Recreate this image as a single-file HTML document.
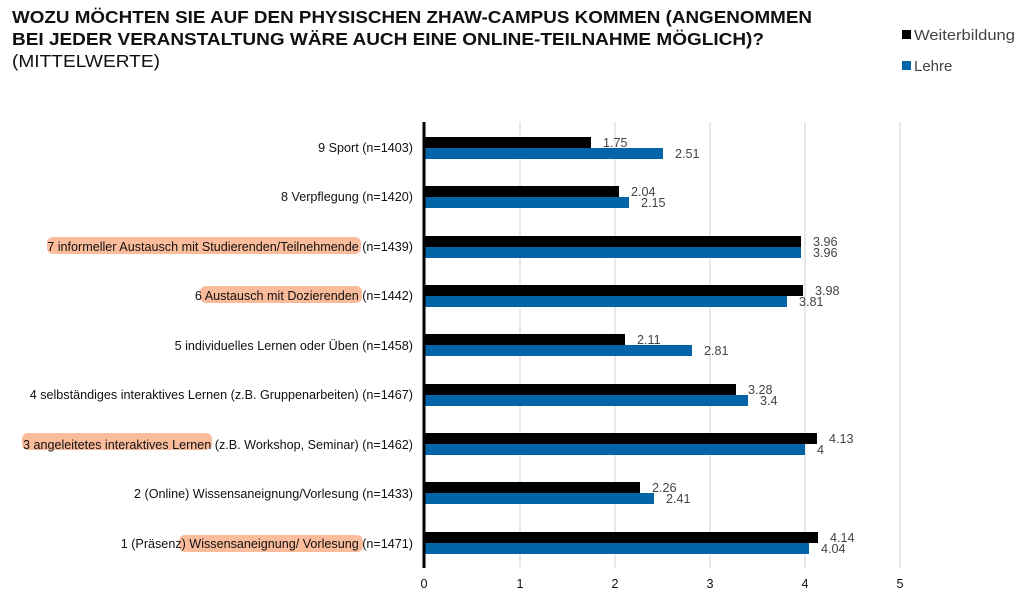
<!DOCTYPE html>
<html><head><meta charset="utf-8"><style>
html,body{margin:0;padding:0;background:#fff;}
svg{display:block;font-family:"Liberation Sans",Arial,sans-serif;}
</style></head><body>
<svg width="1024" height="603" viewBox="0 0 1024 603" xmlns="http://www.w3.org/2000/svg">
<g font-weight="bold" font-size="17.5" fill="#111">
<text x="12" y="23" textLength="800" lengthAdjust="spacingAndGlyphs">WOZU MÖCHTEN SIE AUF DEN PHYSISCHEN ZHAW-CAMPUS KOMMEN (ANGENOMMEN</text>
<text x="12" y="45" textLength="752" lengthAdjust="spacingAndGlyphs">BEI JEDER VERANSTALTUNG WÄRE AUCH EINE ONLINE-TEILNAHME MÖGLICH)?</text>
</g>
<text x="12" y="67" font-size="17.5" fill="#111" textLength="148" lengthAdjust="spacingAndGlyphs">(MITTELWERTE)</text>
<rect x="902" y="30" width="9" height="9" fill="#000"/>
<text x="914" y="40" font-size="15" fill="#444" textLength="101" lengthAdjust="spacingAndGlyphs">Weiterbildung</text>
<rect x="902" y="61" width="9" height="9" fill="#0464a8"/>
<text x="914" y="71" font-size="15" fill="#444">Lehre</text>
<g stroke="#d0d0d0" stroke-width="1">
<line x1="520" y1="122" x2="520" y2="568"/><line x1="615" y1="122" x2="615" y2="568"/>
<line x1="710" y1="122" x2="710" y2="568"/><line x1="805" y1="122" x2="805" y2="568"/>
<line x1="900" y1="122" x2="900" y2="568"/>
</g>
<g fill="#f9a57a" opacity="0.75">
<rect x="47" y="237" width="314" height="17" rx="6"/>
<rect x="200" y="286" width="162" height="17" rx="6"/>
<rect x="22" y="433" width="190" height="17" rx="6"/>
<rect x="179" y="535" width="184" height="17" rx="6"/>
</g>
<g font-size="12.6" fill="#111" text-anchor="end">
<text x="413" y="152">9 Sport (n=1403)</text>
<text x="413" y="201">8 Verpflegung (n=1420)</text>
<text x="413" y="251">7 informeller Austausch mit Studierenden/Teilnehmende (n=1439)</text>
<text x="413" y="300">6 Austausch mit Dozierenden (n=1442)</text>
<text x="413" y="350">5 individuelles Lernen oder Üben (n=1458)</text>
<text x="413" y="399">4 selbständiges interaktives Lernen (z.B. Gruppenarbeiten)  (n=1467)</text>
<text x="413" y="449">3 angeleitetes interaktives Lernen (z.B. Workshop, Seminar) (n=1462)</text>
<text x="413" y="498">2 (Online) Wissensaneignung/Vorlesung (n=1433)</text>
<text x="413" y="548">1 (Präsenz) Wissensaneignung/ Vorlesung (n=1471)</text>
</g>
<g font-size="12.6" fill="#444">
<rect x="425" y="137" width="166" height="11" fill="#000"/><rect x="425" y="148" width="238" height="11" fill="#0464a8"/>
<text x="603" y="147">1.75</text><text x="675" y="158">2.51</text>
<rect x="425" y="186" width="194" height="11" fill="#000"/><rect x="425" y="197" width="204" height="11" fill="#0464a8"/>
<text x="631" y="196">2.04</text><text x="641" y="207">2.15</text>
<rect x="425" y="236" width="376" height="11" fill="#000"/><rect x="425" y="247" width="376" height="11" fill="#0464a8"/>
<text x="813" y="246">3.96</text><text x="813" y="257">3.96</text>
<rect x="425" y="285" width="378" height="11" fill="#000"/><rect x="425" y="296" width="362" height="11" fill="#0464a8"/>
<text x="815" y="295">3.98</text><text x="799" y="306">3.81</text>
<rect x="425" y="334" width="200" height="11" fill="#000"/><rect x="425" y="345" width="267" height="11" fill="#0464a8"/>
<text x="637" y="344">2.11</text><text x="704" y="355">2.81</text>
<rect x="425" y="384" width="311" height="11" fill="#000"/><rect x="425" y="395" width="323" height="11" fill="#0464a8"/>
<text x="748" y="394">3.28</text><text x="760" y="405">3.4</text>
<rect x="425" y="433" width="392" height="11" fill="#000"/><rect x="425" y="444" width="380" height="11" fill="#0464a8"/>
<text x="829" y="443">4.13</text><text x="817" y="454">4</text>
<rect x="425" y="482" width="215" height="11" fill="#000"/><rect x="425" y="493" width="229" height="11" fill="#0464a8"/>
<text x="652" y="492">2.26</text><text x="666" y="503">2.41</text>
<rect x="425" y="532" width="393" height="11" fill="#000"/><rect x="425" y="543" width="384" height="11" fill="#0464a8"/>
<text x="830" y="542">4.14</text><text x="821" y="553">4.04</text>
</g>
<line x1="424" y1="122" x2="424" y2="568" stroke="#000" stroke-width="3"/>
<g font-size="12.6" fill="#111" text-anchor="middle">
<text x="424" y="588">0</text><text x="520" y="588">1</text><text x="615" y="588">2</text>
<text x="710" y="588">3</text><text x="805" y="588">4</text><text x="900" y="588">5</text>
</g>
</svg>
</body></html>
